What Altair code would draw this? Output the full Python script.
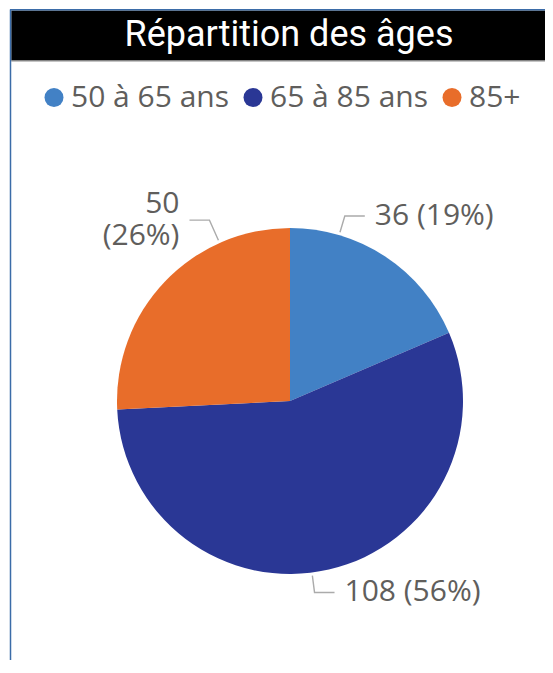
import math
import altair as alt
import pandas as pd

# ---- data ----
categories = ["50 à 65 ans", "65 à 85 ans", "85+"]
counts = [36, 108, 50]
slice_colors = ["#4281C5", "#2A3795", "#E86D2A"]
title_text = "Répartition des âges"

# ---- layout (styling, not data) ----
W, H = 537, 652
CX, CY, R = 282, 393, 173
anchor_deg = {"50 à 65 ans": 16.5, "65 à 85 ans": 172.7, "85+": 336}
elbow_len = {"50 à 65 ans": 20, "65 à 85 ans": 20, "85+": 25}
wrap_label = {"85+": True}
TEXT_COLOR = "#605E5C"
FONT = "Open Sans"
LINE_H = 32

total = sum(counts)
pcts = [round(100 * c / total) for c in counts]

slice_df = pd.DataFrame({"cat": categories, "count": counts, "idx": list(range(len(categories)))})

line_rows, text_rows = [], []
for cat, c, p in zip(categories, counts, pcts):
    a = math.radians(anchor_deg[cat])
    sx, sy = math.sin(a), -math.cos(a)
    side = 1 if sx >= 0 else -1
    p0 = (CX + (R + 3) * sx, CY + (R + 3) * sy)
    p1 = (CX + (R + elbow_len[cat]) * sx, CY + (R + elbow_len[cat]) * sy)
    p2 = (p1[0] + side * 20, p1[1])
    for step, pt in enumerate([p0, p1, p2]):
        line_rows.append({"cat": cat, "step": step, "px": pt[0], "py": pt[1]})
    if wrap_label.get(cat):
        parts = [f"{c}", f"({p}%)"]
    else:
        parts = [f"{c} ({p}%)"]
    n = len(parts)
    for k, t in enumerate(parts):
        text_rows.append({"cat": cat, "px": p2[0] + side * 10,
                          "py": p2[1] + (k - (n - 1) / 2) * LINE_H,
                          "label": t, "side": "left" if side > 0 else "right"})

line_df = pd.DataFrame(line_rows)
text_df = pd.DataFrame(text_rows)

xs = alt.Scale(domain=[0, W], nice=False, zero=False)
ys = alt.Scale(domain=[0, H], nice=False, zero=False, reverse=True)

one = pd.DataFrame({"a": [0]})

frame_left = alt.Chart(one).mark_rule(color="#3B6CA8", strokeWidth=1.5).encode(
    x=alt.value(2.5), y=alt.value(1.5), y2=alt.value(H))
frame_top = alt.Chart(one).mark_rule(color="#3B6CA8", strokeWidth=1.5).encode(
    x=alt.value(2), x2=alt.value(W), y=alt.value(1.8))
title_bar = alt.Chart(one).mark_rect(color="#000000").encode(
    x=alt.value(3.3), x2=alt.value(W), y=alt.value(2.6), y2=alt.value(52.5))
title_sep = alt.Chart(one).mark_rule(color="#8A8A8A", strokeWidth=1).encode(
    x=alt.value(3.3), x2=alt.value(W), y=alt.value(53))
title = alt.Chart(one).mark_text(
    font="Roboto", fontSize=36, color="#FFFFFF", align="center", baseline="middle"
).encode(x=alt.value(281), y=alt.value(27), text=alt.value(title_text))

pie = alt.Chart(slice_df).mark_arc(outerRadius=R).encode(
    theta=alt.Theta("count:Q", stack=True),
    order=alt.Order("idx:Q"),
    color=alt.Color(
        "cat:N",
        scale=alt.Scale(domain=categories, range=slice_colors),
        sort=categories,
        legend=alt.Legend(
            orient="none", legendX=31, legendY=74.5, direction="horizontal", title=None,
            symbolType="circle", symbolSize=361, symbolStrokeWidth=0,
            labelFontSize=30, labelFont=FONT, labelColor=TEXT_COLOR,
            labelOffset=2, columnPadding=8, labelLimit=300, padding=0,
        ),
    ),
    x=alt.value(CX),
    y=alt.value(CY),
)

leaders = alt.Chart(line_df).mark_line(color="#ABABAB", strokeWidth=1.4).encode(
    x=alt.X("px:Q", scale=xs, axis=None),
    y=alt.Y("py:Q", scale=ys, axis=None),
    detail="cat:N",
    order=alt.Order("step:Q"),
)

def text_layer(side):
    return alt.Chart(text_df).transform_filter(alt.datum.side == side).mark_text(
        align=side, baseline="middle", font=FONT, fontSize=30, color=TEXT_COLOR,
    ).encode(
        x=alt.X("px:Q", scale=xs, axis=None),
        y=alt.Y("py:Q", scale=ys, axis=None),
        text="label:N",
    )

chart = alt.layer(
    title_bar, title_sep, frame_left, frame_top, title,
    pie, leaders, text_layer("left"), text_layer("right"),
).properties(
    width=W, height=H, padding=0, autosize=alt.AutoSizeParams(type="none"),
    background="#FFFFFF",
).configure_view(stroke=None)

chart.save("out.html", embed_options={"renderer": "svg", "actions": False})
